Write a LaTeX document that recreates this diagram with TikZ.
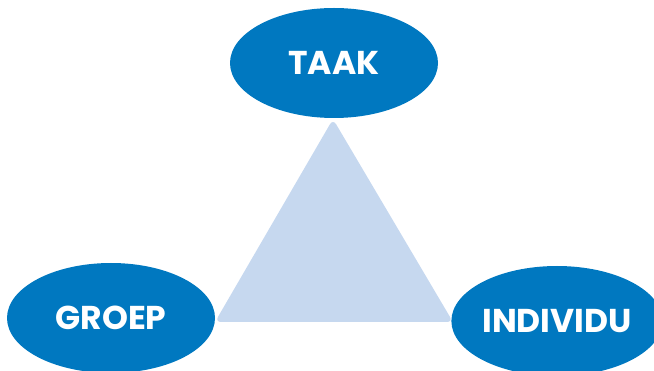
\documentclass[tikz,border=0pt]{standalone}
\usepackage{fontspec}
\setmainfont{Poppins}
\definecolor{blue1}{RGB}{0, 120, 192}
\definecolor{lightblue1}{RGB}{198, 216, 239}
\usetikzlibrary{shapes.geometric}

\begin{document}
\begin{tikzpicture}[x=1pt, y=-1pt,
    role/.style={ellipse, fill=blue1, minimum width=208pt, minimum height=110pt, inner sep=0pt,
      text=white, font=\fontsize{33}{33}\selectfont\bfseries}]
  \useasboundingbox (0,0) rectangle (654,371);

  % the triangle between the three roles
  \fill[lightblue1, rounded corners=6pt] (333,119) -- (453,322) -- (215,322) -- cycle;

  \node[role] (taak) at (334, 63) {TAAK};
  \node[role] (groep) at (111, 318) {GROEP};
  \node[role] (individu) at (557, 321) {INDIVIDU};
\end{tikzpicture}
\end{document}
